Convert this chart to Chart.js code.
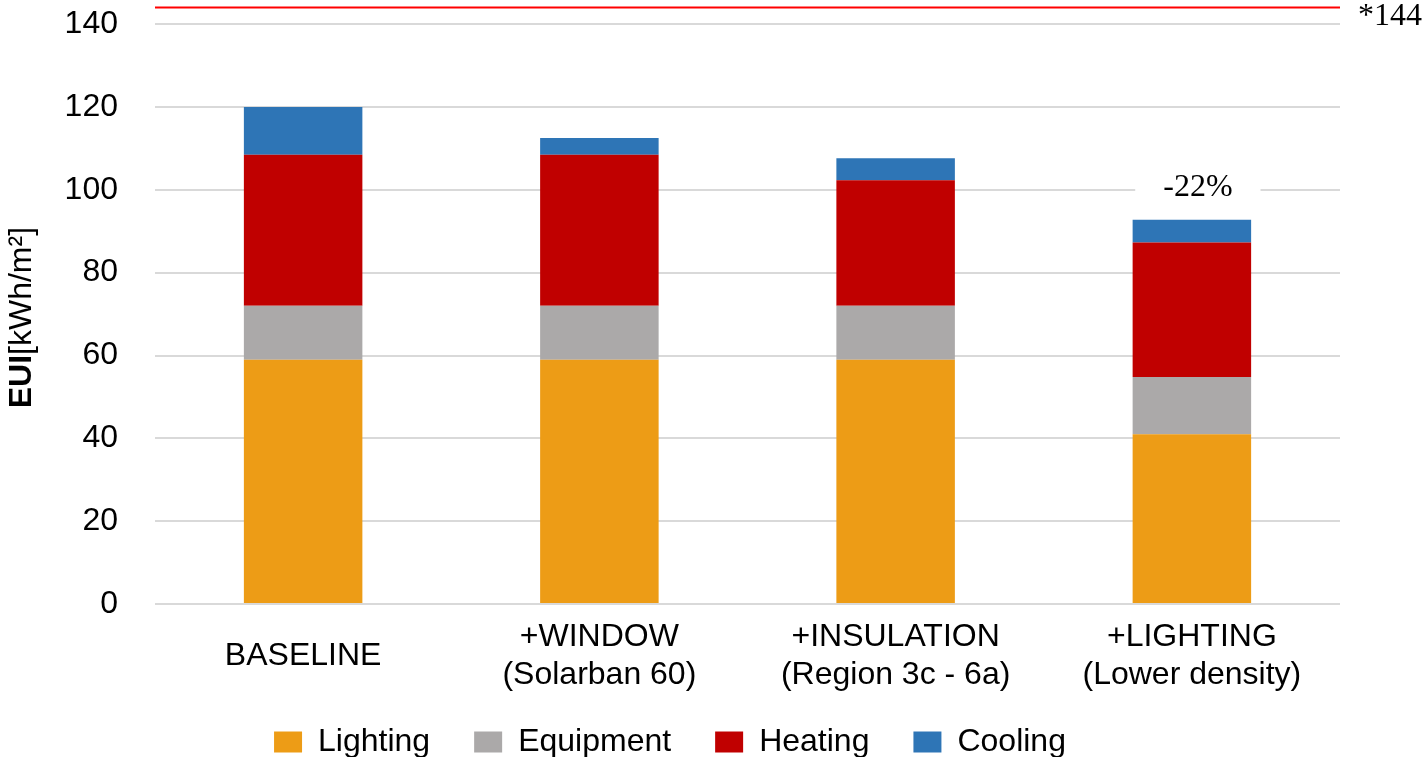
<!DOCTYPE html>
<html>
<head>
<meta charset="utf-8">
<script src="https://cdn.jsdelivr.net/npm/chart.js@4.4.1/dist/chart.umd.min.js"></script>
<style>
  html, body { margin: 0; padding: 0; background: #fff; }
  #wrap { width: 1422px; height: 757px; position: relative; }
</style>
</head>
<body>
<div id="wrap"><canvas id="myChart"></canvas></div>
<script>
// values (kWh/m2)
const categories = [
    'BASELINE',
    ['+WINDOW', '(Solarban 60)'],
    ['+INSULATION', '(Region 3c - 6a)'],
    ['+LIGHTING', '(Lower density)']
];
const lighting  = [59, 59, 59, 41];
const equipment = [13, 13, 13, 13.8];
const heating   = [36.5, 36.5, 30.3, 32.5];
const cooling   = [11.5, 4, 5.3, 5.5];

const yMin = 0;
const yMax = 141.2;
const yStep = 20;

const limitValue = 144;
const limitLabel = '*144';
const savingLabel = '-22%';
const yTitleBold = 'EUI';
const yTitleRest = '[kWh/m\u00B2]';

const sans = "'Liberation Sans', Arial, sans-serif";
const serif = "'Liberation Serif', 'Times New Roman', serif";

Chart.defaults.font.family = sans;
Chart.defaults.color = '#000';

// red reference line, the -22% note and the mixed-weight y title
const extras = {
    id: 'extras',
    afterLayout(chart) {
        // legend sits a bit higher than the layout would put it
        const lg = chart.legend;
        if (lg) {
            lg.top -= 13;
            lg.height += 13;
        }
    },
    afterDatasetsDraw(chart) {
        const ctx = chart.ctx;
        const area = chart.chartArea;
        const y = chart.scales.y;
        const x = chart.scales.x;

        // limit line
        const ly = y.getPixelForValue(limitValue);
        ctx.save();
        ctx.strokeStyle = '#FF0000';
        ctx.lineWidth = 2;
        ctx.beginPath();
        ctx.moveTo(area.left, ly);
        ctx.lineTo(area.right, ly);
        ctx.stroke();
        ctx.font = '32px ' + serif;
        ctx.fillStyle = '#000';
        ctx.textAlign = 'left';
        ctx.textBaseline = 'middle';
        ctx.fillText(limitLabel, area.right + 18, ly + 9);

        // saving note above the last bar
        const last = categories.length - 1;
        const top = lighting[last] + equipment[last] + heating[last] + cooling[last];
        const nx = x.getPixelForValue(last) + 6;
        const ny = y.getPixelForValue(top) - 32;
        const w = ctx.measureText(savingLabel).width;
        ctx.fillStyle = '#fff';
        ctx.fillRect(nx - w / 2 - 28, ny - 18, w + 56, 36);
        ctx.fillStyle = '#000';
        ctx.textAlign = 'center';
        ctx.fillText(savingLabel, nx, ny);
        ctx.restore();
    },
    afterDraw(chart) {
        const ctx = chart.ctx;
        const area = chart.chartArea;
        ctx.save();
        ctx.translate(22, (area.top + area.bottom) / 2 + 6);
        ctx.rotate(-Math.PI / 2);
        ctx.textBaseline = 'middle';
        ctx.textAlign = 'left';
        ctx.fillStyle = '#000';
        ctx.font = 'bold 32px ' + sans;
        const wb = ctx.measureText(yTitleBold).width;
        ctx.font = '32px ' + sans;
        const wr = ctx.measureText(yTitleRest).width;
        const start = -(wb + wr) / 2;
        ctx.font = 'bold 32px ' + sans;
        ctx.fillText(yTitleBold, start, 0);
        ctx.font = '32px ' + sans;
        ctx.fillText(yTitleRest, start + wb, 0);
        ctx.restore();
    }
};

const data = {
    labels: categories,
    datasets: [
        { label: 'Lighting',  data: lighting,  backgroundColor: '#ED9C16' },
        { label: 'Equipment', data: equipment, backgroundColor: '#ABA9A9' },
        { label: 'Heating',   data: heating,   backgroundColor: '#C00000' },
        { label: 'Cooling',   data: cooling,   backgroundColor: '#2E75B6' }
    ]
};

const config = {
    type: 'bar',
    data: data,
    plugins: [extras],
    options: {
        responsive: true,
        maintainAspectRatio: false,
        animation: false,
        devicePixelRatio: 1,
        layout: { padding: { top: 0, right: 82, left: 0, bottom: 0 } },
        datasets: {
            bar: { barPercentage: 0.4, categoryPercentage: 1.0 }
        },
        scales: {
            x: {
                stacked: true,
                grid: { display: false, drawTicks: false },
                border: { display: false },
                ticks: {
                    font: { size: 32 },
                    padding: 33,
                    crossAlign: 'center',
                    maxRotation: 0,
                    autoSkip: false
                },
                afterFit(scale) { scale.height = 91; }
            },
            y: {
                stacked: true,
                min: yMin,
                max: yMax,
                border: { display: false },
                grid: {
                    color: '#D9D9D9',
                    lineWidth: 2,
                    drawTicks: true,
                    tickLength: 37,
                    tickColor: 'rgba(0,0,0,0)'
                },
                ticks: {
                    stepSize: yStep,
                    includeBounds: false,
                    font: { size: 32 },
                    padding: 0
                },
                afterFit(scale) { scale.width = 155; }
            }
        },
        plugins: {
            tooltip: { enabled: false },
            legend: {
                position: 'bottom',
                maxHeight: 62,
                labels: {
                    boxWidth: 28,
                    boxHeight: 21,
                    padding: 44,
                    font: { size: 32 }
                }
            }
        }
    }
};

const myChart = new Chart(document.getElementById('myChart').getContext('2d'), config);
</script>
</body>
</html>
